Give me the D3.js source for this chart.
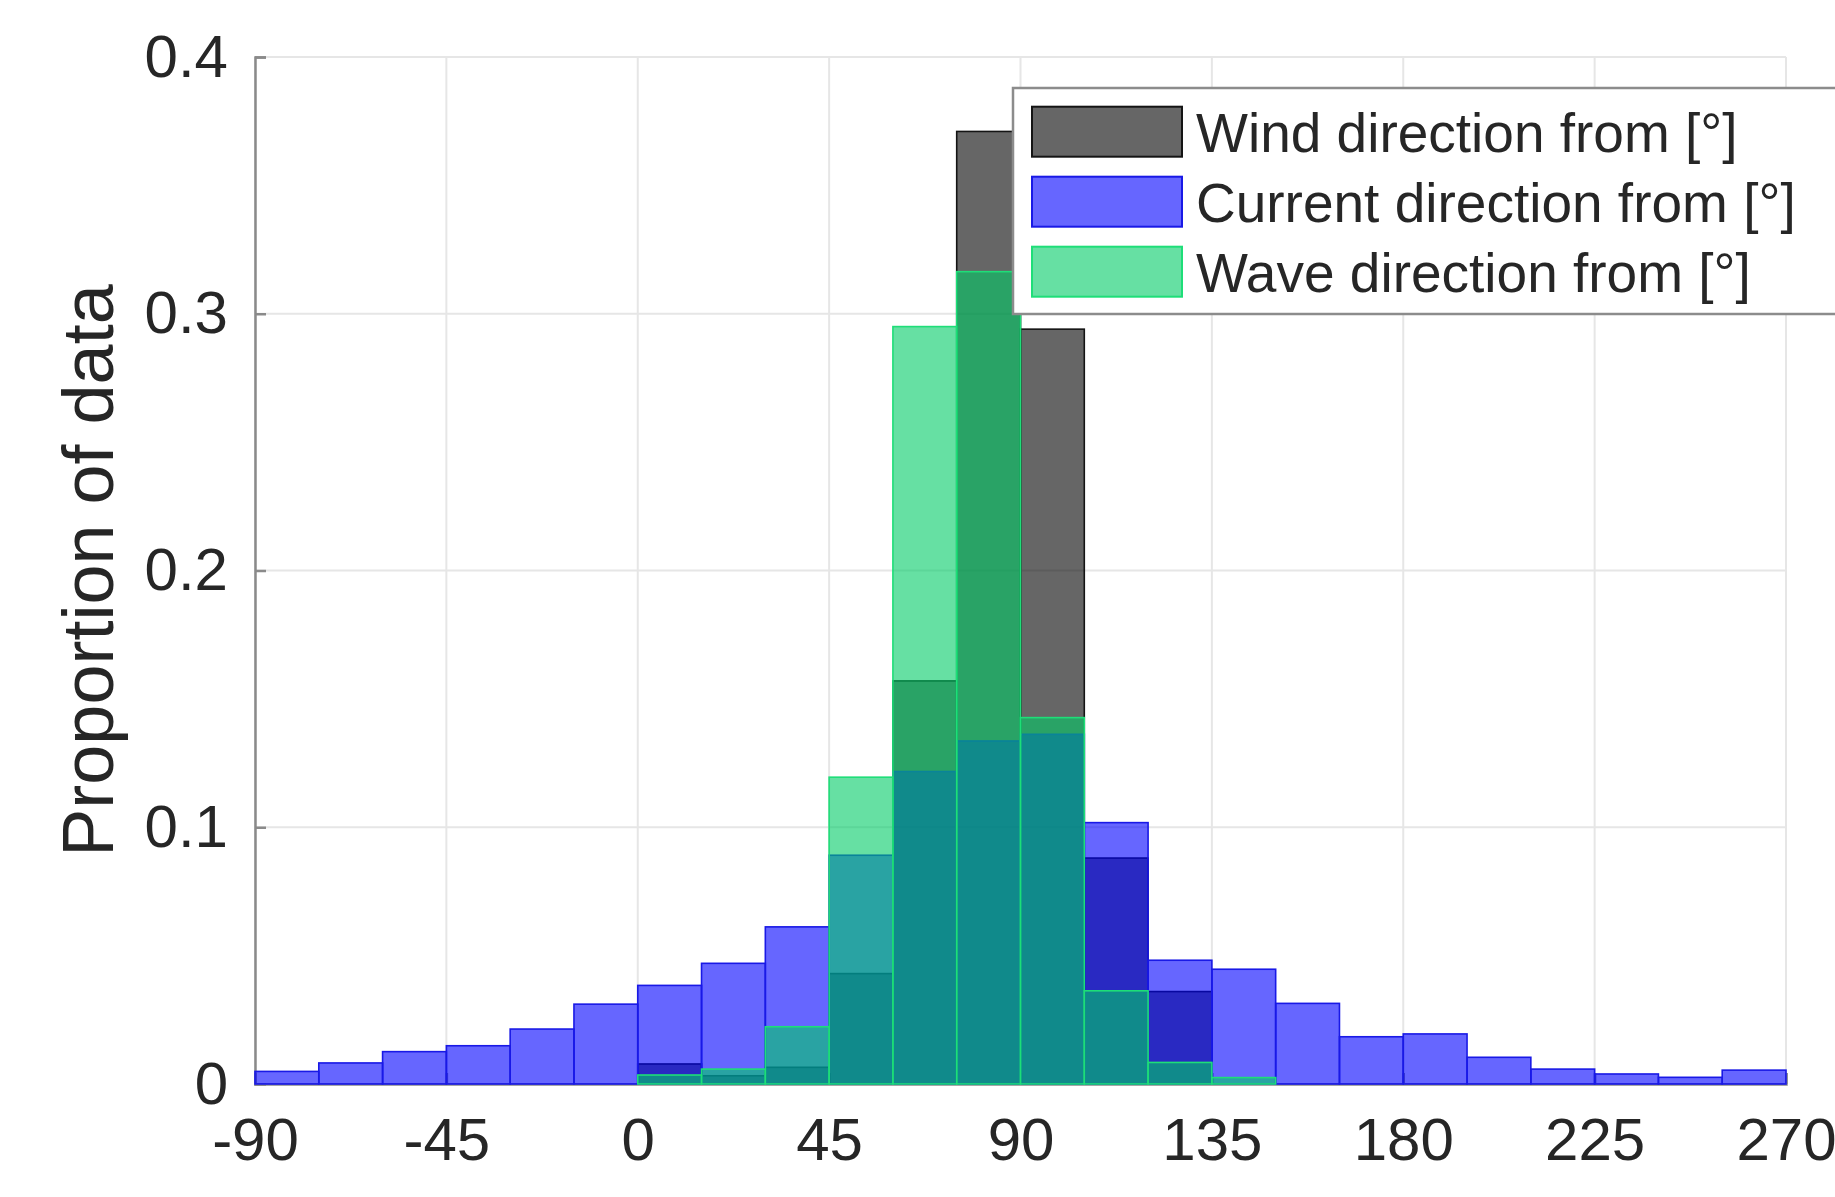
<!DOCTYPE html>
<html>
<head>
<meta charset="utf-8">
<script src="https://cdn.jsdelivr.net/npm/d3@7"></script>
<style>
  html, body { margin: 0; padding: 0; background: #ffffff; }
  svg { display: block; }
  text { font-family: "Liberation Sans", Arial, Helvetica, sans-serif; fill: #262626; }
</style>
</head>
<body>
<svg id="chart" width="1835" height="1197"></svg>
<script>
// ---- data (proportion of data per 15° bin) ----
const binEdges = [-90, -75, -60, -45, -30, -15, 0, 15, 30, 45, 60, 75, 90, 105, 120, 135, 150, 165, 180, 195, 210, 225, 240, 255, 270];
const windValues = [0, 0, 0, 0, 0, 0, 0.0078, 0.0032, 0.0065, 0.043, 0.157, 0.371, 0.294, 0.088, 0.036, 0, 0, 0, 0, 0, 0, 0, 0, 0];
const currentValues = [0.0049, 0.0082, 0.0126, 0.0149, 0.0214, 0.0311, 0.0384, 0.047, 0.0612, 0.0891, 0.1217, 0.1336, 0.1362, 0.1018, 0.0482, 0.0447, 0.0314, 0.0184, 0.0195, 0.0104, 0.0058, 0.0039, 0.0026, 0.0054];
const waveValues = [0, 0, 0, 0, 0, 0, 0.0035, 0.0058, 0.0223, 0.1195, 0.295, 0.3164, 0.1427, 0.0363, 0.0084, 0.0025, 0, 0, 0, 0, 0, 0, 0, 0];
const seriesNames = ["Wind direction from [°]", "Current direction from [°]", "Wave direction from [°]"];
const xTicks = [-90, -45, 0, 45, 90, 135, 180, 225, 270];
const xTickLabels = ["-90", "-45", "0", "45", "90", "135", "180", "225", "270"];
const yTicks = [0, 0.1, 0.2, 0.3, 0.4];
const yTickLabels = ["0", "0.1", "0.2", "0.3", "0.4"];
const yLabel = "Proportion of data";

// ---- styles ----
const styles = [
  { fill: "rgb(0,0,0)", stroke: "rgb(20,20,20)" },
  { fill: "rgb(0,0,255)", stroke: "rgb(25,25,230)" },
  { fill: "rgb(0,204,102)", stroke: "rgb(30,222,120)" }
];
const faceAlpha = 0.6;

const svg = d3.select("#chart");
const x = d3.scaleLinear().domain([-90, 270]).range([255, 1786]);
const y = d3.scaleLinear().domain([0, 0.4]).range([1084, 57]);

// grid
const grid = svg.append("g");
grid.selectAll("line.vg").data(xTicks).enter().append("line")
  .attr("x1", d => x(d)).attr("x2", d => x(d))
  .attr("y1", y(0)).attr("y2", y(0.4))
  .attr("stroke", "#e6e6e6").attr("stroke-width", 2);
grid.selectAll("line.hg").data(yTicks).enter().append("line")
  .attr("x1", x(-90)).attr("x2", x(270))
  .attr("y1", d => y(d)).attr("y2", d => y(d))
  .attr("stroke", "#e6e6e6").attr("stroke-width", 2);

// axes lines (below data)
const yAxis = d3.axisLeft(y).tickValues(yTicks).tickSize(-11).tickPadding(27)
  .tickFormat((d, i) => yTickLabels[i]);
const xAxis = d3.axisBottom(x).tickValues(xTicks).tickSize(-11).tickPadding(33)
  .tickFormat((d, i) => xTickLabels[i]);

const gy = svg.append("g").attr("transform", `translate(${x(-90)},0)`).call(yAxis);
gy.select(".domain").attr("stroke", "#8a8a8a").attr("stroke-width", 2.5);
gy.selectAll(".tick line").attr("stroke", "#8a8a8a").attr("stroke-width", 2.5);
gy.selectAll(".tick text").attr("font-size", 60).attr("fill", "#262626")
  .style("font-family", "'Liberation Sans', Arial, sans-serif");

const gx = svg.append("g").attr("transform", `translate(0,${y(0)})`).call(xAxis);
gx.select(".domain").attr("stroke", "#8a8a8a").attr("stroke-width", 2.5);
gx.selectAll(".tick line").attr("stroke", "#8a8a8a").attr("stroke-width", 2.5);
gx.selectAll(".tick text").attr("font-size", 60).attr("fill", "#262626")
  .style("font-family", "'Liberation Sans', Arial, sans-serif");

// bars
const allSeries = [windValues, currentValues, waveValues];
allSeries.forEach((vals, si) => {
  const bins = vals.map((v, i) => ({ x0: binEdges[i], x1: binEdges[i + 1], v }))
    .filter(b => b.v > 0);
  svg.append("g").selectAll("rect").data(bins).enter().append("rect")
    .attr("x", d => x(d.x0))
    .attr("width", d => x(d.x1) - x(d.x0))
    .attr("y", d => y(d.v))
    .attr("height", d => y(0) - y(d.v))
    .attr("fill", styles[si].fill)
    .attr("fill-opacity", faceAlpha)
    .attr("stroke", styles[si].stroke)
    .attr("stroke-width", 1.6);
});

// y label
svg.append("text")
  .attr("transform", `translate(113,${y(0.2)}) rotate(-90)`)
  .attr("text-anchor", "middle")
  .attr("font-size", 72)
  .text(yLabel);

// legend
const lg = svg.append("g");
lg.append("rect").attr("x", 1013).attr("y", 88).attr("width", 900).attr("height", 226)
  .attr("fill", "#ffffff").attr("stroke", "#8c8c8c").attr("stroke-width", 2.5);
seriesNames.forEach((name, i) => {
  const cy = 131.7 + i * 70;
  lg.append("rect").attr("x", 1032).attr("y", cy - 25).attr("width", 150).attr("height", 50)
    .attr("fill", styles[i].fill).attr("fill-opacity", faceAlpha)
    .attr("stroke", styles[i].stroke).attr("stroke-width", 2);
  lg.append("text").attr("x", 1196).attr("y", cy).attr("dy", "0.36em")
    .attr("font-size", 55).text(name);
});
</script>
</body>
</html>
